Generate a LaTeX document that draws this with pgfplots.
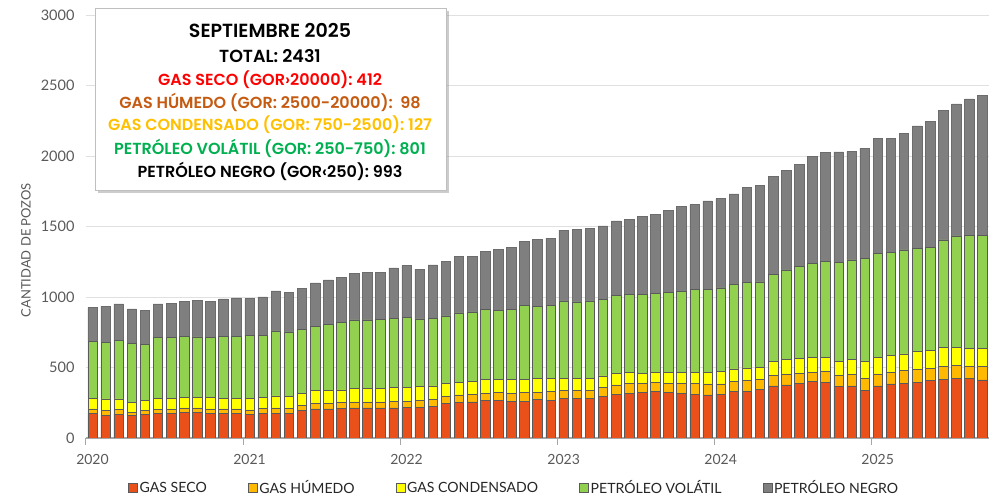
\documentclass[border=0pt]{standalone}
\usepackage{fontspec}
\setmainfont{Lato}
\newfontfamily\boxfont{Poppins SemiBold}
\usepackage{pgfplots}
\pgfplotsset{compat=1.18}
\usepackage{pgfplotstable}
\usetikzlibrary{shadows}
\definecolor{cred}{HTML}{E9501A}
\definecolor{cora}{HTML}{FFB900}
\definecolor{cyel}{HTML}{FFFF00}
\definecolor{cgrn}{HTML}{92D050}
\definecolor{cgry}{HTML}{7F7F7F}
\definecolor{bord}{HTML}{5A5A5A}
\definecolor{tickgray}{HTML}{595959}
\definecolor{tred}{HTML}{FF0000}
\definecolor{tbrown}{HTML}{C55A11}
\definecolor{tgold}{HTML}{FFC000}
\definecolor{tgreen}{HTML}{00B050}
\pgfplotstableread{
x red ora yel grn gry
0 175 31 75 402 244
1 163 31 83 401 257
2 170 31 76 413 262
3 158 26 69 420 242
4 168 28 71 399 237
5 175 28 78 430 241
6 175 28 78 430 246
7 180 33 75 435 246
8 180 33 73 432 258
9 175 31 80 425 258
10 175 31 75 442 263
11 173 33 75 442 270
12 168 31 82 445 265
13 175 35 76 440 274
14 175 38 85 461 284
15 173 37 83 459 281
16 197 36 82 456 290
17 207 39 92 456 307
18 206 42 90 468 315
19 208 46 88 479 319
20 213 44 93 488 330
21 213 44 93 488 335
22 213 44 95 488 337
23 213 49 96 492 356
24 215 47 95 499 366
25 217 52 95 480 354
26 222 52 95 482 376
27 246 47 95 478 389
28 253 52 90 492 402
29 257 55 92 490 395
30 267 52 99 493 411
31 269 52 97 488 432
32 262 55 97 497 439
33 262 59 97 523 456
34 274 52 95 515 475
35 269 60 92 522 473
36 281 59 83 549 503
37 281 59 81 544 515
38 281 59 81 551 515
39 293 64 83 543 521
40 312 64 83 555 525
41 317 71 80 553 532
42 321 67 71 562 553
43 329 63 76 558 560
44 321 67 75 568 581
45 317 71 75 575 603
46 312 76 75 591 601
47 305 78 82 589 628
48 312 71 91 590 633
49 329 75 87 596 644
50 333 78 86 607 671
51 345 73 85 605 686
52 369 77 95 620 692
53 376 78 106 632 704
54 388 70 107 650 726
55 400 68 104 667 756
56 392 78 102 679 775
57 364 82 100 698 785
58 369 82 107 705 768
59 340 83 118 734 780
60 369 85 118 738 816
61 383 82 121 729 811
62 388 89 119 738 828
63 397 90 125 734 868
64 407 87 125 734 892
65 416 94 131 764 918
66 421 96 124 792 937
67 421 85 127 805 968
68 412 98 127 801 993
}\data
\begin{document}
\begin{tikzpicture}
\useasboundingbox (-86pt,-62pt) rectangle (918pt,438pt);
\begin{axis}[
  at={(0pt,0pt)}, anchor=south west,
  scale only axis, width=903pt, height=423pt,
  ybar stacked, bar width=9.5pt,
  xmin=-0.5, xmax=68.5, ymin=0, ymax=3000,
  ytick={0,500,...,3000},
  xtick={-0.5,11.5,23.5,35.5,47.5,59.5},
  xticklabels={2020,2021,2022,2023,2024,2025},
  axis x line*=bottom, axis y line*=left,
  x axis line style={-, draw=black!35, line width=1.2pt},
  y axis line style={draw=none},
  ytick style={draw=none},
  xtick style={draw=black!35, line width=1pt},
  tick align=outside, major tick length=7pt,
  ymajorgrids, grid style={draw=black!12, line width=0.8pt},
  /pgf/number format/assume math mode=true,
  /pgf/number format/1000 sep={},
  xticklabel style={font=\fontsize{14}{14}\selectfont, text=tickgray, xshift=6.5pt, yshift=-6pt},
  yticklabel style={font=\fontsize{14.5}{14.5}\selectfont, text=tickgray, xshift=-1pt},
  ylabel={CANTIDAD DE POZOS},
  ylabel style={at={(axis description cs:-0.0665,0.444)}, anchor=center, font=\fontsize{13}{13}\selectfont, text=tickgray},
  legend columns=5,
  legend style={at={(axis description cs:0.0465,-0.118)}, anchor=west, draw=none, fill=none, inner sep=0pt,
    font=\fontsize{14.1}{14.1}\selectfont, text=black!85,
    /tikz/every even column/.append style={column sep=39pt}},
  legend image code/.code={\draw[#1, draw=bord, line width=0.5pt] (0pt,-4.5pt) rectangle (9pt,4.5pt);},
]
\addplot[fill=cred, draw=bord, line width=0.5pt] table[x=x,y=red]{\data};
\addlegendentry{GAS SECO}
\addplot[fill=cora, draw=bord, line width=0.5pt] table[x=x,y=ora]{\data};
\addlegendentry{GAS HÚMEDO}
\addplot[fill=cyel, draw=bord, line width=0.5pt] table[x=x,y=yel]{\data};
\addlegendentry{GAS CONDENSADO}
\addplot[fill=cgrn, draw=bord, line width=0.5pt] table[x=x,y=grn]{\data};
\addlegendentry{PETRÓLEO VOLÁTIL}
\addplot[fill=cgry, draw=cgry!85!black, line width=0.5pt] table[x=x,y=gry]{\data};
\addlegendentry{PETRÓLEO NEGRO}
\end{axis}
\node[draw=black!25, fill=white, line width=0.8pt, drop shadow={opacity=0.4, shadow xshift=2.5pt, shadow yshift=-3pt},
  minimum width=351pt, minimum height=182pt, anchor=north west, inner sep=0pt] at (9pt,430pt) {};
\begin{scope}[every node/.style={font=\boxfont\fontsize{16}{16}\selectfont, anchor=center, inner sep=0pt}]
\node[font=\boxfont\fontsize{19}{19}\selectfont] at (184pt,408pt) {SEPTIEMBRE 2025};
\node[font=\boxfont\fontsize{17.5}{17.5}\selectfont] at (184pt,382pt) {TOTAL: 2431};
\node[text=tred] at (184pt,358pt) {GAS SECO (GOR›20000):\ 412};
\node[text=tbrown] at (184pt,336pt) {GAS HÚMEDO (GOR: 2500-20000):\ \ 98};
\node[text=tgold] at (184pt,313pt) {GAS CONDENSADO (GOR: 750-2500):\ 127};
\node[text=tgreen] at (184pt,290pt) {PETRÓLEO VOLÁTIL (GOR: 250-750):\ 801};
\node at (184pt,267pt) {PETRÓLEO NEGRO (GOR‹250):\ 993};
\end{scope}
\end{tikzpicture}
\end{document}
